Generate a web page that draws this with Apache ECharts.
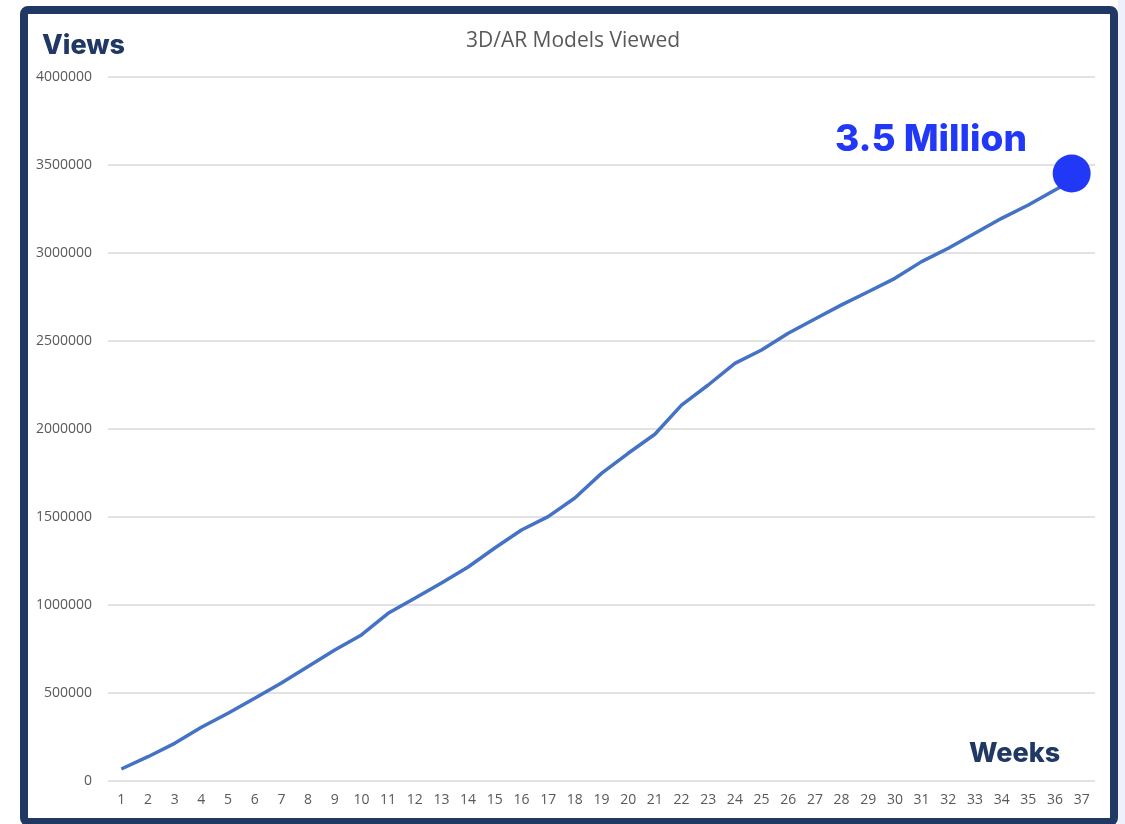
<!DOCTYPE html>
<html>
<head>
<meta charset="utf-8">
<script src="https://cdn.jsdelivr.net/npm/echarts@6/dist/echarts.min.js"></script>
<style>
  html, body { margin: 0; padding: 0; background: #ffffff; }
  #chart { width: 1125px; height: 824px; }
</style>
</head>
<body>
<div id="chart"></div>
<script>
// weeks 1..37
var weeks = [];
for (var w = 1; w <= 37; w++) weeks.push(String(w));

// cumulative views
var views = [68000, 138000, 214000, 305000, 385000, 470000, 557000, 650000, 744000, 830000,
    953000, 1038000, 1125000, 1216000, 1324000, 1426000, 1502000, 1608000, 1748000, 1862000,
    1970000, 2136000, 2250000, 2373000, 2449000, 2544000, 2625000, 2705000, 2780000, 2856000,
    2951000, 3027000, 3112000, 3197000, 3273000, 3358000, 3440000];

var yTicks = [0, 500000, 1000000, 1500000, 2000000, 2500000, 3000000, 3500000, 4000000];

var titleText = '3D/AR Models Viewed';
var yName = 'Views';
var xName = 'Weeks';
var calloutText = '3.5 Million';

var chart = echarts.init(document.getElementById('chart'));

var option = {
    backgroundColor: '#ffffff',
    animation: false,
    title: {
        text: titleText,
        left: 568,
        textAlign: 'center',
        top: 26,
        textStyle: {
            fontFamily: 'Open Sans',
            fontWeight: 'normal',
            fontSize: 21,
            color: '#595959'
        }
    },
    grid: {
        left: 108,
        right: 30,
        top: 77,
        bottom: 43
    },
    xAxis: {
        type: 'category',
        data: weeks,
        boundaryGap: true,
        axisLine: { show: false },
        axisTick: { show: false },
        axisLabel: {
            interval: 0,
            margin: 12,
            fontFamily: 'Open Sans',
            fontSize: 14,
            color: '#595959'
        }
    },
    yAxis: {
        type: 'value',
        min: yTicks[0],
        max: yTicks[yTicks.length - 1],
        interval: 500000,
        axisLine: { show: false },
        axisTick: { show: false },
        axisLabel: {
            margin: 16,
            fontFamily: 'Open Sans',
            fontSize: 14,
            color: '#595959',
            formatter: function(v) { return String(v); }
        },
        splitLine: {
            lineStyle: { color: '#d9d9d9', width: 1.5 }
        }
    },
    series: [{
        type: 'line',
        data: views,
        showSymbol: false,
        smooth: false,
        lineStyle: { color: '#4472c4', width: 3.5 },
        itemStyle: { color: '#4472c4' },
        markPoint: {
            symbol: 'circle',
            symbolSize: 38,
            symbolOffset: [-10, -2],
            itemStyle: { color: '#2138f7' },
            label: { show: false },
            data: [{ coord: [weeks.length - 1, views[views.length - 1]] }]
        }
    }],
    graphic: [
        {
            type: 'rect',
            left: 1118,
            top: 0,
            shape: { width: 7, height: 824 },
            style: { fill: '#eef0fb' },
            silent: true
        },
        {
            type: 'rect',
            shape: { x: 24, y: 10, width: 1090, height: 812, r: 4 },
            style: { fill: 'none', stroke: '#1f3864', lineWidth: 8 },
            silent: true
        },
        {
            type: 'text',
            left: 42,
            top: 32,
            style: {
                text: yName,
                font: '800 27px Inter',
                fill: '#1f3864'
            }
        },
        {
            type: 'text',
            left: 969,
            top: 740,
            style: {
                text: xName,
                font: '800 27px Inter',
                fill: '#1f3864'
            }
        },
        {
            type: 'text',
            left: 835,
            top: 121,
            style: {
                text: calloutText,
                font: '800 37px Inter',
                fill: '#2138f7'
            }
        }
    ]
};

chart.setOption(option);
</script>
</body>
</html>
